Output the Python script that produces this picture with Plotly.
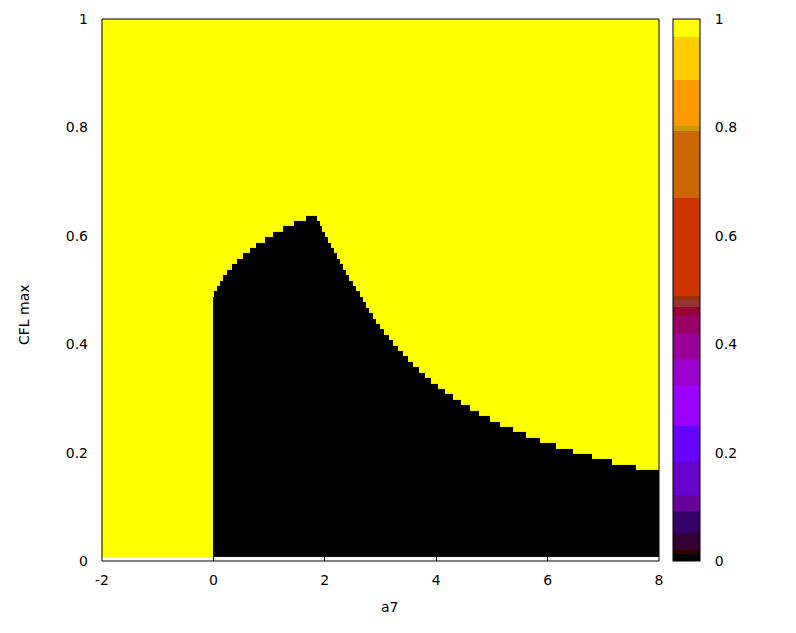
import plotly.graph_objects as go

# ---------------- data ----------------
# a7 interval edges over which CFL max is constant (x >= 0)
a7_edges = [0.0, 0.013, 0.066, 0.120, 0.174, 0.246, 0.336, 0.425, 0.533, 0.659,
            0.767, 0.928, 1.072, 1.251, 1.449, 1.664, 1.862, 1.916, 1.952, 2.005,
            2.059, 2.113, 2.167, 2.221, 2.275, 2.329, 2.382, 2.436, 2.508, 2.562,
            2.634, 2.688, 2.741, 2.795, 2.867, 2.921, 2.993, 3.065, 3.154, 3.226,
            3.316, 3.406, 3.496, 3.585, 3.693, 3.801, 3.908, 4.034, 4.160, 4.303,
            4.447, 4.609, 4.770, 4.968, 5.147, 5.381, 5.614, 5.865, 6.153, 6.458,
            6.799, 7.158, 7.589, 8.0]
# CFL max on each interval
cfl_max = [0.48, 0.49, 0.50, 0.51, 0.52, 0.53, 0.54, 0.55, 0.56, 0.57,
           0.58, 0.59, 0.60, 0.61, 0.62, 0.63,
           0.62, 0.61, 0.60, 0.59, 0.58, 0.57, 0.56, 0.55, 0.54, 0.53,
           0.52, 0.51, 0.50, 0.49, 0.48, 0.47, 0.46, 0.45, 0.44, 0.43,
           0.42, 0.41, 0.40, 0.39, 0.38, 0.37, 0.36, 0.35, 0.34, 0.33,
           0.32, 0.31, 0.30, 0.29, 0.28, 0.27, 0.26, 0.25, 0.24, 0.23,
           0.22, 0.21, 0.20, 0.19, 0.18, 0.17, 0.16]
# region a7 < 0 : no stable CFL
a7_left = -2.0
cfl_left = 0.0

# CFL sampling levels (step 0.01)
cfl_levels = [round(0.01 * k, 2) for k in range(1, 101)]

x_ticks = [-2, 0, 2, 4, 6, 8]
x_tick_text = ["-2", "0", "2", "4", "6", "8"]
y_ticks = [0, 0.2, 0.4, 0.6, 0.8, 1]
y_tick_text = ["0", "0.2", "0.4", "0.6", "0.8", "1"]

# colour bands of the colour box (value boundaries and colours)
band_bounds = [0, 0.0138, 0.0212, 0.052, 0.0918, 0.1226, 0.184, 0.2485, 0.3253,
               0.3733, 0.4194, 0.4512, 0.4678, 0.482, 0.4894, 0.6706, 0.7941,
               0.8027, 0.8876, 0.9674, 1.0]
band_colors = ["#000000", "#330000", "#330033", "#330066", "#660099", "#6600CC",
               "#6600FF", "#9900FF", "#9900CC", "#990099", "#990066", "#990033",
               "#993333", "#993300", "#CC3300", "#CC6600", "#CC9900", "#FF9900",
               "#FFCC00", "#FFFF00"]

# ---------------- build grid ----------------
x_edges = [a7_left] + a7_edges
col_cfl = [cfl_left] + cfl_max
y_edges = [0.0075] + [round(lv + 0.0075, 4) for lv in cfl_levels]
z = []
for lv in cfl_levels:
    z.append([0 if lv <= c + 1e-9 else 1 for c in col_cfl])

colorscale = []
for i, col in enumerate(band_colors):
    colorscale.append([band_bounds[i], col])
    colorscale.append([band_bounds[i + 1], col])

# ---------------- layout geometry ----------------
# the page body has an 8px margin: the figure is placed at (8, 8)
OFF = 8
W, H = 796 - OFF, 633 - OFF
L, R, T, B = 102 - OFF, 137, 19 - OFF, 72
pw = W - L - R
ph = H - T - B


def px2paper_x(px):
    return (px - OFF - L) / pw


def py2paper_y(py):
    return (H + OFF - B - py) / ph


font = dict(family="DejaVu Sans, sans-serif", size=14, color="black")

fig = go.Figure()
fig.add_trace(go.Heatmap(
    x=x_edges, y=y_edges, z=z,
    zmin=0, zmax=1,
    colorscale=colorscale,
    showscale=True,
    hoverinfo="skip",
    colorbar=dict(
        x=px2paper_x(673), xanchor="left", xpad=0,
        y=0, yanchor="bottom", len=1, lenmode="fraction", ypad=0,
        thickness=27, thicknessmode="pixels",
        outlinecolor="black", outlinewidth=1,
        tickvals=y_ticks, ticktext=y_tick_text,
        ticks="outside", ticklen=12, tickcolor="rgba(0,0,0,0)",
        tickfont=font,
    ),
))

axis_common = dict(
    ticks="inside", ticklen=6, tickcolor="black", tickwidth=1,
    showgrid=False, zeroline=False, showline=False,
    layer="below traces", tickfont=font,
)
fig.update_xaxes(range=[-2, 8], tickvals=x_ticks, ticktext=x_tick_text,
                 ticklabelstandoff=9, **axis_common)
fig.update_yaxes(range=[0, 1], tickvals=y_ticks, ticktext=y_tick_text,
                 ticklabelstandoff=13, **axis_common)

shapes = [dict(type="rect", xref="paper", yref="paper", x0=0, x1=1, y0=0, y1=1,
               line=dict(color="black", width=1), layer="above")]
# inner tick marks on both sides of the colour box
for v in y_ticks[1:-1]:
    for a, b in ((673, 679), (694, 700)):
        shapes.append(dict(type="line", xref="paper", yref="paper",
                           x0=px2paper_x(a), x1=px2paper_x(b), y0=v, y1=v,
                           line=dict(color="black", width=1), layer="above"))

fig.update_layout(
    width=W, height=H,
    margin=dict(l=L, r=R, t=T, b=B, autoexpand=False),
    paper_bgcolor="white", plot_bgcolor="white",
    shapes=shapes,
    annotations=[
        dict(text="a7", xref="paper", yref="paper", x=px2paper_x(390),
             y=py2paper_y(607), showarrow=False, font=font,
             xanchor="center", yanchor="middle"),
        dict(text="CFL max", xref="paper", yref="paper", x=px2paper_x(24),
             y=py2paper_y(315), showarrow=False, font=font, textangle=-90,
             xanchor="center", yanchor="middle"),
    ],
)

fig.write_html("out.html")
